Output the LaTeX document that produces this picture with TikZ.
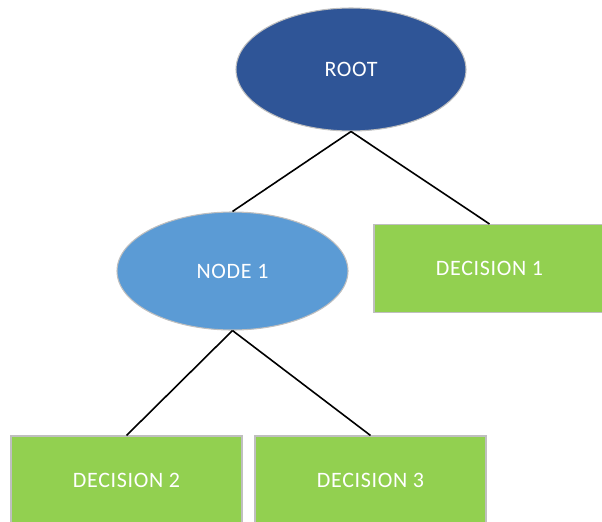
\documentclass[tikz,border=0pt]{standalone}
\usepackage{fontspec}
\setmainfont{Carlito}
\newfontfamily\labelfont[LetterSpace=3]{Carlito}
\usetikzlibrary{shapes.geometric}
\definecolor{rootblue}{HTML}{2F5597}
\definecolor{nodeblue}{HTML}{5B9BD5}
\definecolor{leafgreen}{HTML}{92D050}
\definecolor{rim}{HTML}{BFBFBF}
\tikzset{
  treenode/.style={ellipse, draw=rim, line width=0.8pt, text=white,
    font=\labelfont\fontsize{16.5}{19}\selectfont, inner sep=0pt},
  leafbox/.style={rectangle, draw=rim, line width=0.8pt, fill=leafgreen,
    text=white, font=\labelfont\fontsize{16.5}{19}\selectfont,
    minimum width=173.25pt, minimum height=66pt, inner sep=0pt},
  branch/.style={line width=1.2pt, black}
}
\begin{document}
\begin{tikzpicture}[x=0.75pt, y=-0.75pt]
  \useasboundingbox (0,0) rectangle (602,521);
  % upper level
  \node[treenode, fill=rootblue, minimum width=172.5pt, minimum height=92.25pt]
    (root) at (351,69.5) {ROOT};
  \node[treenode, fill=nodeblue, minimum width=173.25pt, minimum height=88.5pt]
    (n1) at (232.5,271) {NODE 1};
  \node[leafbox] (d1) at (489.5,268.5) {DECISION 1};
  % lower level
  \node[leafbox] (d2) at (126.5,480) {DECISION 2};
  \node[leafbox] (d3) at (370.5,480) {DECISION 3};
  % branches
  \draw[branch] (root.south) -- (n1.north);
  \draw[branch] (root.south) -- (d1.north);
  \draw[branch] (n1.south) -- (d2.north);
  \draw[branch] (n1.south) -- (d3.north);
\end{tikzpicture}
\end{document}
